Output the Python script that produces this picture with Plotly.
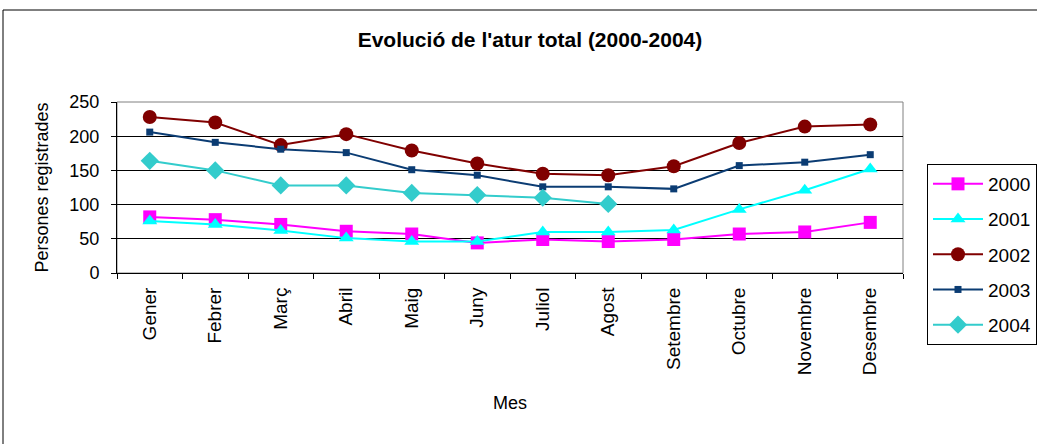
import plotly.graph_objects as go

months = ["Gener", "Febrer", "Març", "Abril", "Maig", "Juny", "Juliol",
          "Agost", "Setembre", "Octubre", "Novembre", "Desembre"]
y2000 = [82, 78, 71, 61, 57, 44, 49, 46, 49, 57, 60, 74]
y2001 = [76, 71, 62, 51, 46, 46, 60, 60, 63, 93, 121, 152]
y2002 = [228, 220, 187, 203, 179, 160, 145, 143, 156, 190, 214, 217]
y2003 = [206, 191, 181, 176, 151, 143, 126, 126, 123, 157, 162, 173]
y2004 = [164, 150, 128, 128, 117, 114, 110, 101]
years = ["2000", "2001", "2002", "2003", "2004"]

FONT = "Liberation Sans, Arial, sans-serif"

series = [
    (years[0], y2000, "#FF00FF", "square", 13),
    (years[1], y2001, "#00FFFF", "triangle-up", 13),
    (years[2], y2002, "#800000", "circle", 14),
    (years[3], y2003, "#0B3C73", "square", 7),
    (years[4], y2004, "#33CCCC", "diamond", 14),
]

fig = go.Figure()
for name, vals, col, sym, sz in series:
    fig.add_trace(go.Scatter(
        x=months[:len(vals)], y=vals, name=name, mode="lines+markers",
        line=dict(color=col, width=2),
        marker=dict(symbol=sym, size=sz, color=col, line=dict(width=0)),
        legendgroup=name,
    ))

L, R, T, B = 117, 903, 102, 273
W, H = 1037, 444
pw, ph = R - L, B - T

def px(x):
    return (x - L) / pw

def py(y):
    return (B - y) / ph

fig.update_layout(
    width=W, height=H,
    margin=dict(l=L, r=W - R, t=T, b=H - B, pad=0, autoexpand=False),
    paper_bgcolor="white", plot_bgcolor="white",
    font=dict(family=FONT, size=18, color="black"),
    title=dict(text="<b>Evolució de l'atur total (2000-2004)</b>",
               x=530 / W, xref="container", xanchor="center",
               y=1 - 40 / H, yref="container", yanchor="middle",
               font=dict(size=21, family=FONT)),
    showlegend=True,
    legend=dict(x=px(927), y=py(164), xanchor="left", yanchor="top",
                bordercolor="black", borderwidth=1, bgcolor="white",
                font=dict(size=19, family=FONT), tracegroupgap=7.5,
                itemwidth=50, traceorder="grouped", maxheight=400),
    xaxis=dict(type="category", tickangle=-90, showline=True,
               linecolor="black", linewidth=1, ticks="outside",
               tickson="boundaries", ticklen=5, tickcolor="black",
               showgrid=False, mirror=False, automargin=False,
               tickfont=dict(size=19), ticklabelstandoff=6,
               title=dict(text="Mes", standoff=22, font=dict(size=18)),
               range=[-0.5, 11.5]),
    yaxis=dict(range=[0, 250], dtick=50, showline=True, linecolor="black",
               linewidth=1, ticks="outside", ticklen=5, tickcolor="black",
               showgrid=True, gridcolor="black", gridwidth=1,
               zeroline=False, automargin=False, ticklabelstandoff=8,
               tickfont=dict(size=18),
               title=dict(text="Persones registrades", standoff=16,
                          font=dict(size=18))),
    shapes=[
        dict(type="rect", xref="paper", yref="paper", x0=0, x1=1, y0=0, y1=1,
             line=dict(color="#808080", width=1), layer="below"),
        dict(type="rect", xref="paper", yref="paper",
             x0=px(3), x1=px(1045), y0=py(450), y1=py(10),
             line=dict(color="black", width=1), layer="below"),
    ],
)

fig.write_html("out.html", config={"displayModeBar": False},
               post_script="document.body.style.margin='0';document.body.style.overflow='hidden';")
